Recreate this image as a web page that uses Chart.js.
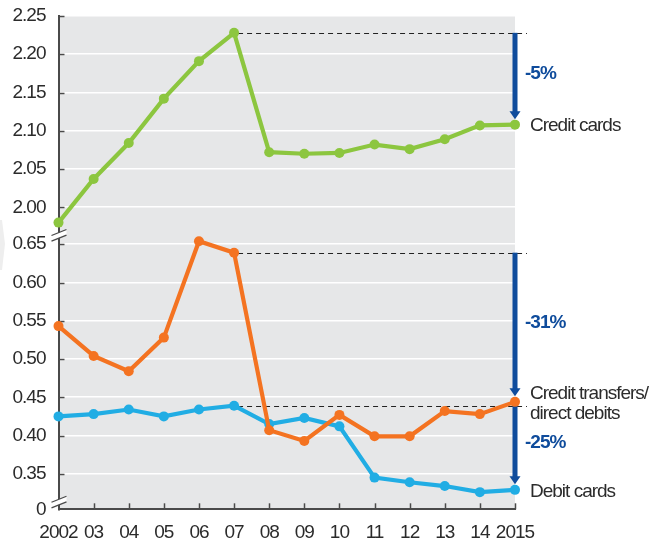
<!DOCTYPE html>
<html>
<head>
<meta charset="utf-8">
<script src="https://cdn.jsdelivr.net/npm/chart.js@4/dist/chart.umd.min.js"></script>
<style>
html,body{margin:0;padding:0;background:#fff;}
#wrap{width:657px;height:544px;}
</style>
</head>
<body>
<div id="wrap"><canvas id="c" width="657" height="544"></canvas></div>
<script>
// ---- data ----
const years = ['2002','03','04','05','06','07','08','09','10','11','12','13','14','2015'];
const creditCards     = [1.980, 2.037, 2.084, 2.142, 2.191, 2.228, 2.072, 2.070, 2.071, 2.082, 2.076, 2.089, 2.107, 2.108];
const creditTransfers = [0.543, 0.504, 0.484, 0.528, 0.654, 0.639, 0.407, 0.393, 0.427, 0.399, 0.399, 0.432, 0.428, 0.444];
const debitCards      = [0.425, 0.428, 0.434, 0.425, 0.434, 0.439, 0.415, 0.423, 0.412, 0.345, 0.339, 0.334, 0.326, 0.329];
const yTickValues = [0, 0.35, 0.40, 0.45, 0.50, 0.55, 0.60, 0.65, 2.00, 2.05, 2.10, 2.15, 2.20, 2.25];
const yTickLabels = ['0','0.35','0.40','0.45','0.50','0.55','0.60','0.65','2.00','2.05','2.10','2.15','2.20','2.25'];
const seriesNames = ['Credit cards', 'Credit transfers/\ndirect debits', 'Debit cards'];
const changeLabels = ['-5%', '-31%', '-25%'];
const peakIndex = 5; // 2007

// ---- broken axis mapping ----
const BOTTOM_MIN = 0.3036;  // where "0" sits
const TOP_SHIFT = 1.3017;   // upper section shifted down
const mapV = v => v === 0 ? BOTTOM_MIN : (v >= 1 ? v - TOP_SHIFT : v);
const AXIS_MAX = mapV(2.25);
const BREAK_TOP = 0.6617, BREAK_BOTTOM = 0.3131;

const FONT = "'Liberation Sans', Arial, sans-serif";
const FS = 19;
const SPACING = '-1px';
const colors = ['#8cc63f', '#f47321', '#21ade4'];
const ARROW = '#0f4c9c';
const TEXT = '#2b2b2b';
const AXIS = '#4a4a4a';

const setSpacing = chart => { try { chart.ctx.letterSpacing = SPACING; } catch (e) {} };

const decor = {
  id: 'decor',
  beforeInit: setSpacing,
  beforeUpdate: setSpacing,
  beforeDraw(chart) {
    setSpacing(chart);
    const {ctx, chartArea: a} = chart;
    ctx.save();
    ctx.fillStyle = '#e6e7e8';
    ctx.fillRect(a.left, a.top, a.right - a.left, a.bottom - a.top);
    // faint decorative chevron at left edge
    ctx.fillStyle = '#eeeeee';
    ctx.beginPath();
    ctx.moveTo(0, 220); ctx.lineTo(2, 220); ctx.lineTo(5, 244); ctx.lineTo(2, 270); ctx.lineTo(0, 270);
    ctx.closePath(); ctx.fill();
    ctx.restore();
  },
  beforeDatasetsDraw(chart) {
    const {ctx, chartArea: a, scales: {x, y}} = chart;
    ctx.save();
    // inward tick marks
    ctx.strokeStyle = AXIS; ctx.lineWidth = 1.5;
    yTickValues.forEach(v => {
      if (v === 0) return;
      const py = Math.round(y.getPixelForValue(mapV(v))) + 0.5;
      ctx.beginPath(); ctx.moveTo(a.left, py); ctx.lineTo(a.left + 6, py); ctx.stroke();
    });
    years.forEach((_, i) => {
      if (i === 0) return;
      const px = Math.round(x.getPixelForValue(i)) + 0.5;
      ctx.beginPath(); ctx.moveTo(px, a.bottom); ctx.lineTo(px, a.bottom - 6); ctx.stroke();
    });
    // dashed reference lines from 2007 peak
    const series = [creditCards, creditTransfers, debitCards];
    const x0 = x.getPixelForValue(peakIndex);
    ctx.setLineDash([5, 4]); ctx.lineWidth = 1; ctx.strokeStyle = '#222';
    series.forEach(s => {
      const py = Math.round(y.getPixelForValue(mapV(s[peakIndex]))) + 0.5;
      ctx.beginPath(); ctx.moveTo(x0 + 4, py); ctx.lineTo(a.right + 12, py); ctx.stroke();
    });
    ctx.setLineDash([]);
    // arrows
    const xr = x.getPixelForValue(years.length - 1);
    series.forEach(s => {
      const y0 = y.getPixelForValue(mapV(s[peakIndex]));
      const y1 = y.getPixelForValue(mapV(s[s.length - 1])) - 5.5;
      ctx.fillStyle = ARROW;
      ctx.fillRect(xr - 2.5, y0, 5, y1 - y0 - 6);
      ctx.beginPath();
      ctx.moveTo(xr - 5.5, y1 - 8); ctx.lineTo(xr + 5.5, y1 - 8); ctx.lineTo(xr, y1);
      ctx.closePath(); ctx.fill();
    });
    ctx.restore();
  },
  afterDraw(chart) {
    const {ctx, chartArea: a, scales: {x, y}} = chart;
    ctx.save();
    // axis break marks
    [BREAK_TOP, BREAK_BOTTOM].forEach(bv => {
      const cy = y.getPixelForValue(bv);
      const l = a.left - 7, r = a.left + 8, dy = 3, gap = 2.8;
      ctx.fillStyle = '#fff';
      ctx.beginPath();
      ctx.moveTo(l, cy + dy - gap); ctx.lineTo(r, cy - dy - gap); ctx.lineTo(r, cy - dy + gap); ctx.lineTo(l, cy + dy + gap);
      ctx.closePath(); ctx.fill();
      ctx.strokeStyle = AXIS; ctx.lineWidth = 1.2;
      ctx.beginPath(); ctx.moveTo(l, cy + dy - gap); ctx.lineTo(r, cy - dy - gap); ctx.stroke();
      ctx.beginPath(); ctx.moveTo(l, cy + dy + gap); ctx.lineTo(r, cy - dy + gap); ctx.stroke();
    });
    // series labels and change labels
    const series = [creditCards, creditTransfers, debitCards];
    const xr = x.getPixelForValue(years.length - 1);
    ctx.textBaseline = 'middle'; ctx.textAlign = 'left';
    series.forEach((s, i) => {
      const pEnd = y.getPixelForValue(mapV(s[s.length - 1]));
      const pPeak = y.getPixelForValue(mapV(s[peakIndex]));
      ctx.fillStyle = TEXT; ctx.font = FS + 'px ' + FONT;
      const lines = seriesNames[i].split('\n');
      lines.forEach((t, k) => {
        const off = (k - (lines.length - 1) / 2) * 20;
        ctx.fillText(t, xr + 15, pEnd + 1.5 + off);
      });
      ctx.fillStyle = ARROW; ctx.font = 'bold ' + FS + 'px ' + FONT;
      ctx.fillText(changeLabels[i], xr + 10, (pPeak + pEnd) / 2 - 5);
    });
    ctx.restore();
  }
};

const ds = (label, data, color) => ({
  label, data: data.map(mapV),
  borderColor: color, backgroundColor: color,
  pointBackgroundColor: color, pointBorderWidth: 0,
  pointRadius: 5, borderWidth: 4.2, tension: 0, clip: false
});

Chart.defaults.font.family = FONT;
Chart.defaults.font.size = FS;
Chart.defaults.color = TEXT;

new Chart(document.getElementById('c'), {
  type: 'line',
  data: {
    labels: years,
    datasets: [
      ds(seriesNames[0], creditCards, colors[0]),
      ds(seriesNames[1], creditTransfers, colors[1]),
      ds(seriesNames[2], debitCards, colors[2])
    ]
  },
  options: {
    responsive: false, animation: false,
    layout: {padding: {left: 0, right: 142, top: 16, bottom: 0}},
    plugins: {legend: {display: false}, tooltip: {enabled: false}},
    scales: {
      x: {
        type: 'category', offset: false,
        grid: {display: false, drawTicks: false},
        border: {display: true, color: AXIS, width: 2},
        ticks: {padding: 12, maxRotation: 0, autoSkip: false, color: TEXT, font: {size: FS}},
        afterFit(s) { s.height = 34.7; s.paddingLeft = 0; s.paddingRight = 0; }
      },
      y: {
        type: 'linear', min: BOTTOM_MIN, max: AXIS_MAX,
        afterBuildTicks(s) { s.ticks = yTickValues.map(v => ({value: mapV(v)})); },
        grid: {color: ctx => (ctx.tick && Math.abs(ctx.tick.value - BOTTOM_MIN) < 1e-6) ? 'rgba(0,0,0,0)' : '#ffffff', lineWidth: 1.6, drawTicks: false},
        border: {display: true, color: AXIS, width: 2},
        ticks: {
          padding: 13, color: TEXT, font: {size: FS},
          callback: (val, idx) => yTickLabels[idx]
        },
        afterFit(s) { s.width = 58.5; s.paddingTop = 0; s.paddingBottom = 0; }
      }
    }
  },
  plugins: [decor]
});
</script>
</body>
</html>
